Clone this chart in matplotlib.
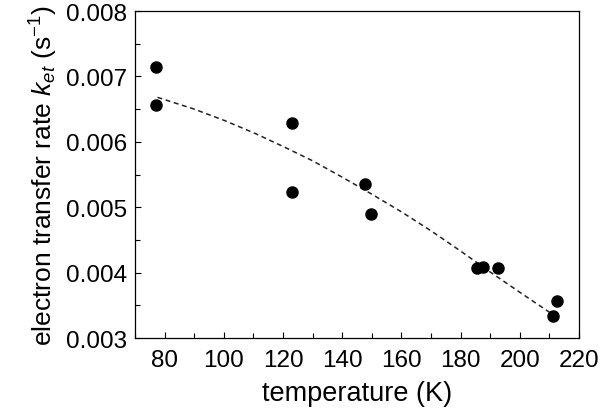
import matplotlib
matplotlib.use("Agg")
import matplotlib.pyplot as plt
from matplotlib.ticker import MultipleLocator

plt.rcParams['font.family'] = ['Liberation Sans', 'DejaVu Sans']
plt.rcParams['mathtext.fontset'] = 'custom'
plt.rcParams['mathtext.rm'] = 'Liberation Sans'
plt.rcParams['mathtext.it'] = 'Liberation Sans:italic'

# measured points
temp = [77.1, 77.1, 122.9, 122.9, 147.8, 149.6, 185.4, 187.4, 192.5, 211.3, 212.5]
k_et = [0.00714, 0.00657, 0.00629, 0.00524, 0.00535, 0.00490,
        0.00407, 0.00408, 0.00407, 0.00333, 0.00356]

# dashed fit curve
fit_T = [77.6, 90, 100, 110, 120, 130, 140, 150, 160, 170, 180, 190, 200, 210.5]
fit_k = [0.00668, 0.00650, 0.00633, 0.00614, 0.00593, 0.00571, 0.00546,
         0.00520, 0.00493, 0.00464, 0.00433, 0.00401, 0.00370, 0.00338]

fig = plt.figure(figsize=(6, 4.14), dpi=100)
ax = fig.add_axes([0.225, 0.181, 0.74, 0.79])

ax.plot(fit_T, fit_k, color='#222222', lw=1.1, linestyle=(0, (3.2, 2.4)))
ax.plot(temp, k_et, 'o', color='black', markersize=8)

ax.set_xlim(70, 220)
ax.set_ylim(0.003, 0.008)
ax.xaxis.set_major_locator(MultipleLocator(20))
ax.xaxis.set_minor_locator(MultipleLocator(10))
ax.yaxis.set_major_locator(MultipleLocator(0.001))
ax.yaxis.set_minor_locator(MultipleLocator(0.0005))
ax.tick_params(which='both', direction='in', top=False, right=False, labelsize=17.5)
ax.tick_params(which='major', length=4, width=0.8)
ax.tick_params(which='minor', length=3.5, width=0.8)
ax.tick_params(axis='x', which='major', pad=8)
ax.tick_params(axis='y', which='major', pad=6)
for s in ax.spines.values():
    s.set_linewidth(0.9)

ax.set_xlabel('temperature (K)', fontsize=19.5, labelpad=6)
ax.set_ylabel(r'electron transfer rate $k_{et}$ (s$^{-1}$)', fontsize=19, labelpad=4)

fig.savefig('out.png', dpi=100)
